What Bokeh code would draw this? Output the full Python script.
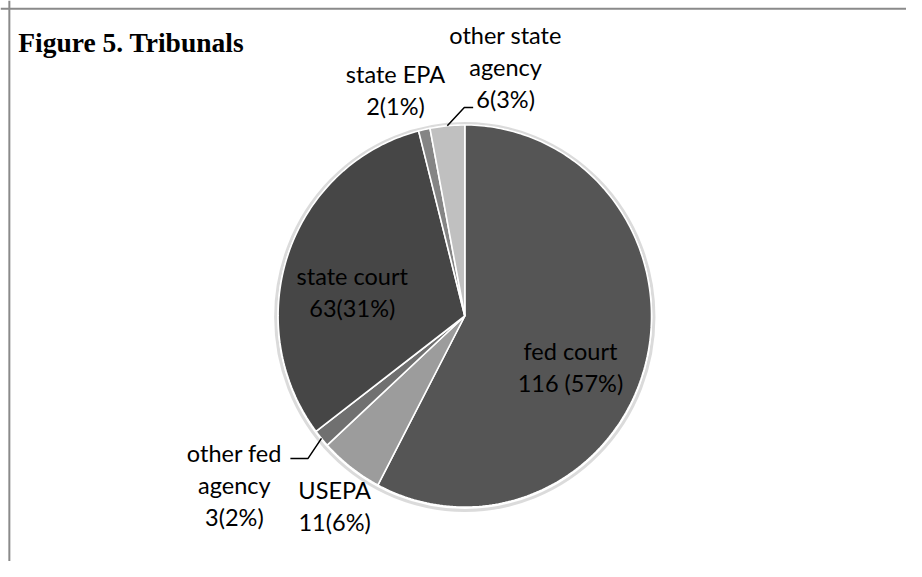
import math
from bokeh.plotting import figure
from bokeh.models import Range1d, ColumnDataSource, Span
from bokeh.core.properties import value
from bokeh.embed import file_html
from bokeh.resources import INLINE

# ---- data (clockwise from 12 o'clock) ----
categories = ["fed court", "USEPA", "other fed agency", "state court", "state EPA", "other state agency"]
counts = [116, 11, 3, 63, 2, 6]
pct_labels = ["116 (57%)", "11(6%)", "3(2%)", "63(31%)", "2(1%)", "6(3%)"]
label_lines = [["fed court"], ["USEPA"], ["other fed", "agency"], ["state court"], ["state EPA"], ["other state", "agency"]]

# ---- styles / layout (coordinates in a 922x577 reference frame) ----
colors = ["#555555", "#9c9c9c", "#707070", "#464646", "#858585", "#c0c0c0"]
CX, CY, RX, RY = 472.5, 324.5, 190.0, 196.5
label_pos = [(580, 360), (340, 503), (238, 465), (358, 283), (402, 76), (514, 35)]
LINE_GAP = 33
leaders = {5: [(472, 110), (481, 110)], 2: [(313, 471), (295, 471)]}

W, H = 906, 561
p = figure(width=W, height=H, output_backend="svg", toolbar_location=None,
           x_range=Range1d(0, 922), y_range=Range1d(577, 0),
           min_border=0, background_fill_color="white", border_fill_color="white")
p.axis.visible = False
p.grid.visible = False
p.outline_line_color = None

# frame (left + top edges only, the rest runs off the page)
p.add_layout(Span(location=9, dimension="height", line_color="#8a8a8a", line_width=2))
p.add_layout(Span(location=8.5, dimension="width", line_color="#8a8a8a", line_width=2))

total = float(sum(counts))
angles = []
acc = 0.0
for c in counts:
    a0 = acc / total * 2 * math.pi
    acc += c
    a1 = acc / total * 2 * math.pi
    angles.append((a0, a1))

def pt(theta, k=1.0):
    return CX + k * RX * math.sin(theta), CY - k * RY * math.cos(theta)

# soft shadow ring
p.ellipse(x=CX, y=CY + 1, width=2 * RX + 5, height=2 * RY + 5, fill_color=None,
          line_color="#bdbdbd", line_width=3, line_alpha=0.55)

xs, ys = [], []
for a0, a1 in angles:
    n = max(4, int((a1 - a0) / (2 * math.pi) * 360))
    px, py = [CX], [CY]
    for i in range(n + 1):
        x, y = pt(a0 + (a1 - a0) * i / n)
        px.append(x)
        py.append(y)
    xs.append(px)
    ys.append(py)

src = ColumnDataSource(dict(xs=xs, ys=ys, color=colors, name=categories))
p.patches("xs", "ys", source=src, fill_color="color", line_color="white", line_width=1.6)

# leader lines
for idx, pts in leaders.items():
    a0, a1 = angles[idx]
    sx, sy = pt((a0 + a1) / 2)
    lx = [sx] + [q[0] for q in pts]
    ly = [sy] + [q[1] for q in pts]
    p.line(lx, ly, line_color="black", line_width=1.5)

# labels
tx, ty, tt = [], [], []
for i in range(len(categories)):
    x0, y0 = label_pos[i]
    lines = label_lines[i] + [pct_labels[i]]
    for j, s in enumerate(lines):
        tx.append(x0)
        ty.append(y0 + j * LINE_GAP)
        tt.append(s)
p.text(x=tx, y=ty, text=tt, text_font=value("Lato"), text_font_size="23.5px",
       text_color="black", text_align="center", text_baseline="middle")

# title
p.text(x=[18], y=[43], text=["Figure 5. Tribunals"], text_font=value("Liberation Serif"),
       text_font_size="27.5px", text_font_style="bold", text_color="black",
       text_align="left", text_baseline="middle")

open("out.html", "w").write(file_html(p, INLINE))
